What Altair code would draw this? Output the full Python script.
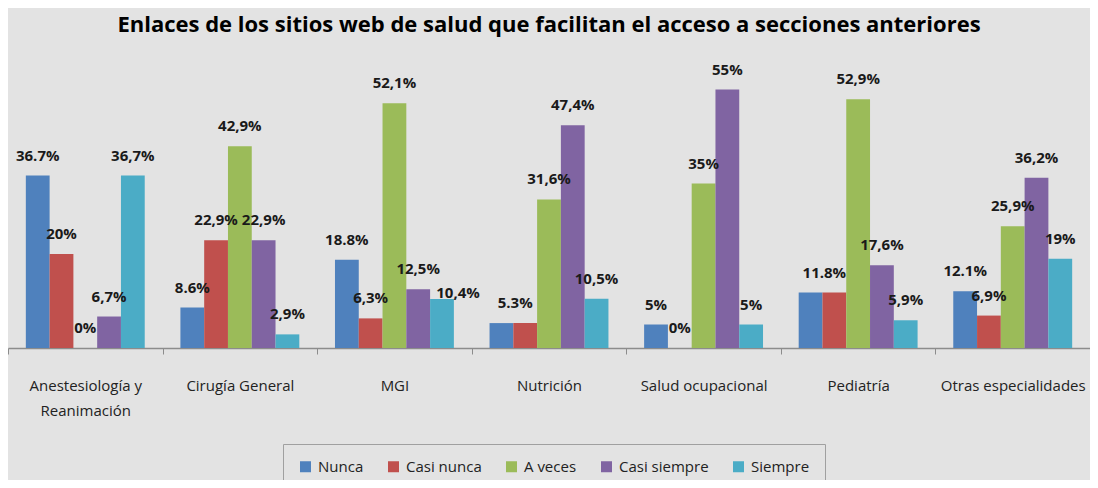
import altair as alt
import pandas as pd

categories = ["Anestesiología y Reanimación", "Cirugía General", "MGI", "Nutrición",
              "Salud ocupacional", "Pediatría", "Otras especialidades"]
series = ["Nunca", "Casi nunca", "A veces", "Casi siempre", "Siempre"]
colors = ["#4F81BD", "#C0504D", "#9BBB59", "#8064A2", "#4BACC6"]

nunca = [36.7, 8.6, 18.8, 5.3, 5, 11.8, 12.1]
casi_nunca = [20, 22.9, 6.3, 5.3, 0, 11.8, 6.9]
a_veces = [0, 42.9, 52.1, 31.6, 35, 52.9, 25.9]
casi_siempre = [6.7, 22.9, 12.5, 47.4, 55, 17.6, 36.2]
siempre = [36.7, 2.9, 10.4, 10.5, 5, 5.9, 19]

nunca_labels = ["36.7%", "8.6%", "18.8%", "", "5%", "", "12.1%"]
casi_nunca_labels = ["20%", "22,9%", "6,3%", "5.3%", "0%", "11.8%", "6,9%"]
a_veces_labels = ["0%", "42,9%", "52,1%", "31,6%", "35%", "52,9%", "25,9%"]
casi_siempre_labels = ["6,7%", "22,9%", "12,5%", "47,4%", "55%", "17,6%", "36,2%"]
siempre_labels = ["36,7%", "2,9%", "10,4%", "10,5%", "5%", "5,9%", "19%"]

title_text = "Enlaces de los sitios web de salud que facilitan el acceso a secciones anteriores"

values = [nunca, casi_nunca, a_veces, casi_siempre, siempre]
labels = [nunca_labels, casi_nunca_labels, a_veces_labels, casi_siempre_labels, siempre_labels]

rows = []
for s, vals, labs in zip(series, values, labels):
    for c, v, l in zip(categories, vals, labs):
        rows.append({"categoria": c, "serie": s, "valor": v, "etiqueta": l})
df = pd.DataFrame(rows)

FONT = "Open Sans"

x = alt.X(
    "categoria:N",
    sort=categories,
    scale=alt.Scale(paddingInner=0, paddingOuter=0),
    axis=alt.Axis(
        title=None,
        labelAngle=0,
        tickBand="extent",
        tickSize=6,
        tickColor="#8C8C8C",
        domainColor="#8C8C8C",
        domainWidth=1.5,
        labelFont=FONT,
        labelFontSize=15,
        labelColor="#222222",
        labelPadding=24,
        labelLineHeight=25,
        labelExpr="datum.label == 'Anestesiología y Reanimación' ? ['Anestesiología y', 'Reanimación'] : datum.label",
    ),
)
xo = alt.XOffset("serie:N", sort=series, scale=alt.Scale(paddingInner=0, paddingOuter=0.75))
y = alt.Y("valor:Q", scale=alt.Scale(domain=[0, 60]), axis=None)

bars = alt.Chart(df).mark_bar().encode(
    x=x,
    xOffset=xo,
    y=y,
    color=alt.Color(
        "serie:N",
        sort=series,
        scale=alt.Scale(domain=series, range=colors),
        legend=alt.Legend(
            title=None,
            orient="none",
            legendX=275,
            legendY=378,
            direction="horizontal",
            symbolType="square",
            symbolSize=121,
            symbolStrokeWidth=0,
            labelFont=FONT,
            labelFontSize=15,
            labelColor="#222222",
            strokeColor="#A0A0A0",
            padding=15,
            columnPadding=22,
            labelOffset=5,
        ),
    ),
)

text_style = dict(baseline="middle", align="center", font=FONT, fontSize=15,
                  fontWeight="bold", color="#1a1a1a")

is_mgi_siempre = "datum.categoria == 'MGI' && datum.serie == 'Siempre'"
is_shared = "(datum.categoria == 'Nutrición' || datum.categoria == 'Pediatría') && datum.serie == 'Casi nunca'"

text = alt.Chart(df).mark_text(dy=-20, **text_style).encode(
    x=x, xOffset=xo, y=y, text="etiqueta:N",
).transform_filter(f"!({is_mgi_siempre}) && !({is_shared})")

text_mgi = alt.Chart(df).mark_text(dy=-6, dx=16, **text_style).encode(
    x=x, xOffset=xo, y=y, text="etiqueta:N",
).transform_filter(is_mgi_siempre)

text_shared = alt.Chart(df).mark_text(dy=-20, dx=-10, **text_style).encode(
    x=x, xOffset=xo, y=y, text="etiqueta:N",
).transform_filter(is_shared)

chart = alt.layer(bars, text, text_mgi, text_shared).properties(
    width=1082,
    height=282,
    autosize="none",
    padding={"left": 0, "top": 58, "right": 0, "bottom": 132},
    background="#E3E3E3",
    title=alt.TitleParams(
        text=title_text,
        font=FONT,
        fontSize=22,
        fontWeight="bold",
        color="#000000",
        anchor="middle",
        baseline="middle",
        offset=16,
    ),
).configure_view(stroke=None)

chart.save("out.html", embed_options={"renderer": "svg", "actions": False})
